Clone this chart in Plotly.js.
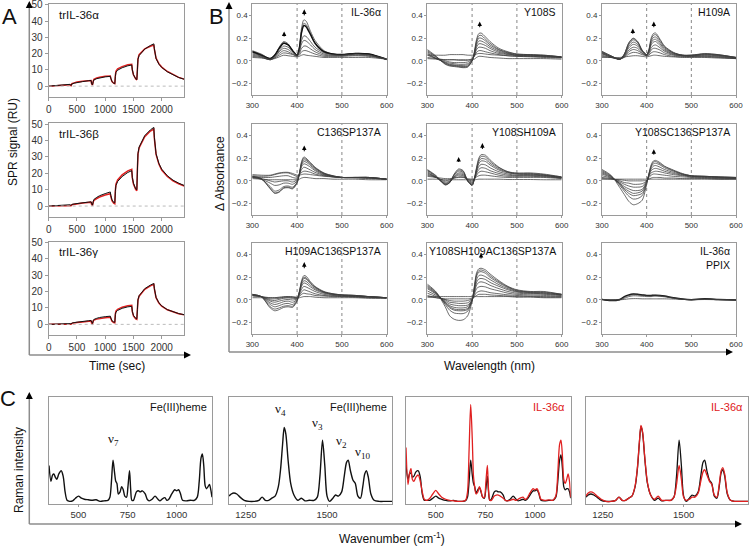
<!DOCTYPE html>
<html><head><meta charset="utf-8">
<script src="https://cdn.plot.ly/plotly-3.0.1.min.js"></script>
<style>html,body{margin:0;padding:0;background:#fff}#chart{width:756px;height:546px}</style>
</head><body><div id="chart"></div>
<script>
// ---------------- Panel A : SPR single-cycle kinetics ----------------
const sprTime = [0,100,200,300,380,395,410,450,500,600,700,750,760,775,790,800,850,900,1000,1090,1100,1120,1150,1170,1180,1190,1220,1300,1400,1470,1480,1500,1540,1560,1570,1580,1600,1650,1700,1800,1860,1870,1900,1950,2000,2100,2200,2300,2400];
const sprAlphaBlack = [0,0.4,0.7,0.9,1.1,0.4,1.3,1.8,2.2,2.8,3.3,3.5,1.5,0.8,3.0,3.8,4.6,5.1,5.7,6.0,4.5,2.8,1.8,1.5,6.0,8.5,9.8,11.3,12.5,13.0,10.0,7.0,4.5,4.0,10.0,16.5,18.8,21.0,22.8,25.0,26.0,23.0,17.0,13.5,11.5,8.8,6.8,5.3,4.2];
const sprAlphaRed   = [0,0.3,0.5,0.7,0.9,0.3,1.5,2.0,2.5,3.0,3.3,3.4,1.4,0.7,3.3,4.2,5.0,5.5,6.0,6.2,4.6,2.8,1.8,1.5,6.5,9.2,10.6,12.0,13.1,13.4,10.0,7.0,4.4,3.9,10.5,16.8,19.3,21.4,22.9,24.5,25.2,22.8,17.2,13.8,11.7,9.0,7.0,5.4,4.3];
const sprBetaBlack  = [0,0.2,0.4,0.6,0.8,0.3,1.0,1.3,1.6,2.0,2.4,2.6,1.0,0.5,3.0,4.0,5.3,6.3,7.6,8.6,6.5,3.8,2.2,2.0,9.0,12.5,15.0,18.0,20.5,21.6,17.5,14.0,10.5,10.0,22.0,32.0,36.0,40.0,43.0,46.5,48.0,42.0,32.0,26.0,22.5,18.5,15.8,14.0,12.5];
const sprBetaRed    = [0,0.1,0.3,0.5,0.6,0.2,0.8,1.1,1.4,1.8,2.2,2.3,0.8,0.3,2.6,3.4,4.6,5.5,6.7,7.5,5.8,3.3,1.7,1.4,9.5,13.3,15.9,19.0,21.5,22.4,17.2,13.5,10.0,9.4,22.8,31.5,35.5,39.4,42.3,45.8,47.0,41.3,31.5,25.6,22.0,18.0,15.4,13.6,12.2];
const sprGammaBlack = [0,0.2,0.3,0.4,0.5,0.2,0.8,1.1,1.4,1.8,2.2,2.4,0.9,0.5,2.5,3.0,3.7,4.2,4.7,5.0,3.8,2.2,1.5,1.3,6.0,7.5,8.5,9.8,10.7,11.0,8.0,5.5,3.7,3.4,9.0,15.0,17.5,20.0,21.8,24.0,25.0,22.0,16.5,13.2,11.3,9.0,7.6,6.6,5.9];
const sprGammaRed   = [0,0.1,0.2,0.3,0.4,0.1,0.6,0.9,1.2,1.5,1.9,2.0,0.7,0.3,2.2,2.6,3.2,3.6,4.1,4.4,3.4,1.9,1.1,0.9,6.4,8.1,9.2,10.5,11.3,11.6,7.8,5.2,3.3,3.0,9.4,14.8,17.2,19.6,21.4,23.5,24.4,21.6,16.3,13.0,11.1,8.9,7.5,6.5,5.8];
const sprTitles = ['trIL-36α','trIL-36β','trIL-36γ'];
const sprXTicks = [0,500,1000,1500,2000];
const sprYTicks = [0,10,20,30,40,50];

// ---------------- Panel B : difference absorbance spectra ----------------
const wl = [300,320,340,350,360,370,380,390,400,405,410,415,420,430,440,460,480,500,530,560,600];
const absTitles = ['IL-36α','Y108S','H109A','C136SP137A','Y108SH109A','Y108SC136SP137A','H109AC136SP137A','Y108SH109AC136SP137A','IL-36α<br>PPIX'];
const absIL36a = [
 [0.09,0.06,0.02,0.05,0.12,0.17,0.15,0.09,0.05,0.12,0.29,0.36,0.35,0.26,0.18,0.09,0.06,0.055,0.065,0.06,0.01],
 [0.085,0.055,0.02,0.05,0.11,0.16,0.14,0.09,0.05,0.11,0.26,0.33,0.32,0.24,0.16,0.08,0.06,0.055,0.065,0.06,0.015],
 [0.08,0.05,0.02,0.05,0.11,0.155,0.14,0.09,0.05,0.11,0.25,0.31,0.30,0.23,0.155,0.08,0.06,0.055,0.065,0.06,0.015],
 [0.07,0.045,0.015,0.04,0.09,0.13,0.12,0.08,0.05,0.09,0.18,0.22,0.215,0.17,0.12,0.07,0.055,0.05,0.06,0.055,0.015],
 [0.06,0.04,0.01,0.035,0.08,0.11,0.10,0.07,0.045,0.08,0.15,0.18,0.175,0.14,0.10,0.06,0.05,0.05,0.06,0.05,0.015],
 [0.05,0.035,0.01,0.03,0.065,0.09,0.08,0.06,0.045,0.065,0.11,0.13,0.13,0.105,0.08,0.05,0.045,0.045,0.05,0.045,0.015],
 [0.04,0.03,0.01,0.025,0.05,0.07,0.065,0.055,0.04,0.05,0.08,0.09,0.09,0.075,0.06,0.04,0.04,0.04,0.045,0.04,0.015],
 [0.03,0.025,0.015,0.02,0.035,0.05,0.045,0.04,0.035,0.04,0.05,0.055,0.05,0.045,0.04,0.03,0.03,0.03,0.03,0.03,0.015]];
const absY108S = [
 [0.10,0.04,-0.03,-0.045,-0.05,-0.055,-0.06,-0.055,0.0,0.08,0.19,0.24,0.245,0.21,0.17,0.11,0.08,0.06,0.055,0.05,0.035],
 [0.09,0.035,-0.025,-0.04,-0.045,-0.05,-0.055,-0.05,0.0,0.07,0.175,0.22,0.225,0.19,0.155,0.10,0.075,0.06,0.055,0.05,0.035],
 [0.08,0.03,-0.02,-0.035,-0.04,-0.045,-0.05,-0.045,0.0,0.065,0.16,0.20,0.20,0.175,0.14,0.095,0.07,0.055,0.05,0.045,0.035],
 [0.07,0.02,-0.015,-0.03,-0.035,-0.04,-0.04,-0.035,0.005,0.06,0.14,0.175,0.175,0.155,0.125,0.085,0.065,0.05,0.05,0.045,0.035],
 [0.06,0.02,-0.01,-0.02,-0.025,-0.03,-0.03,-0.025,0.01,0.05,0.12,0.15,0.15,0.135,0.11,0.075,0.06,0.05,0.045,0.04,0.03],
 [0.05,0.02,0.0,-0.01,-0.015,-0.015,-0.015,-0.01,0.015,0.045,0.10,0.12,0.12,0.11,0.09,0.065,0.055,0.045,0.04,0.04,0.03],
 [0.03,0.02,0.01,0.01,0.01,0.005,0.005,0.005,0.02,0.04,0.075,0.09,0.09,0.08,0.07,0.055,0.045,0.04,0.04,0.035,0.03],
 [0.05,0.05,0.05,0.055,0.055,0.055,0.055,0.05,0.05,0.05,0.06,0.065,0.065,0.06,0.055,0.05,0.045,0.04,0.035,0.03,0.025],
 [0.02,0.015,0.01,0.01,0.01,0.01,0.01,0.01,0.01,0.015,0.03,0.04,0.04,0.035,0.03,0.025,0.02,0.02,0.02,0.02,0.015]];
const absH109A = [
 [0.085,0.045,0.015,0.06,0.16,0.20,0.17,0.095,0.055,0.10,0.20,0.24,0.245,0.19,0.13,0.075,0.05,0.05,0.065,0.055,0.03],
 [0.08,0.045,0.015,0.06,0.155,0.195,0.165,0.09,0.055,0.095,0.185,0.225,0.23,0.18,0.125,0.07,0.05,0.05,0.06,0.055,0.03],
 [0.075,0.04,0.015,0.055,0.145,0.185,0.16,0.09,0.055,0.09,0.17,0.205,0.21,0.165,0.115,0.07,0.05,0.05,0.06,0.05,0.03],
 [0.07,0.04,0.015,0.05,0.13,0.165,0.145,0.085,0.055,0.085,0.155,0.185,0.19,0.15,0.105,0.065,0.05,0.045,0.055,0.05,0.03],
 [0.065,0.035,0.015,0.045,0.115,0.145,0.13,0.08,0.05,0.08,0.14,0.165,0.17,0.135,0.095,0.06,0.045,0.045,0.05,0.045,0.025],
 [0.06,0.035,0.015,0.04,0.095,0.12,0.11,0.07,0.05,0.07,0.115,0.135,0.14,0.115,0.085,0.055,0.045,0.04,0.045,0.04,0.025],
 [0.05,0.03,0.015,0.035,0.08,0.10,0.09,0.065,0.045,0.06,0.095,0.11,0.11,0.095,0.07,0.05,0.04,0.04,0.04,0.035,0.02],
 [0.04,0.03,0.02,0.03,0.06,0.075,0.07,0.055,0.045,0.05,0.07,0.08,0.08,0.07,0.055,0.04,0.035,0.035,0.035,0.03,0.02],
 [0.03,0.03,0.03,0.035,0.04,0.045,0.045,0.04,0.035,0.04,0.045,0.05,0.05,0.045,0.04,0.035,0.03,0.03,0.03,0.025,0.02]];
const absC136SP137A = [
 [0.04,0.02,-0.07,-0.11,-0.10,-0.065,-0.06,-0.07,-0.02,0.06,0.17,0.21,0.20,0.16,0.12,0.07,0.045,0.03,0.03,0.03,0.015],
 [0.04,0.02,-0.065,-0.105,-0.095,-0.06,-0.055,-0.065,-0.015,0.06,0.16,0.20,0.19,0.155,0.115,0.065,0.045,0.03,0.03,0.03,0.015],
 [0.035,0.015,-0.05,-0.09,-0.08,-0.05,-0.045,-0.055,-0.01,0.06,0.15,0.185,0.18,0.145,0.11,0.065,0.04,0.03,0.03,0.03,0.015],
 [0.03,0.015,-0.02,-0.04,-0.035,-0.02,-0.02,-0.03,0.0,0.06,0.14,0.17,0.165,0.135,0.10,0.06,0.04,0.03,0.03,0.03,0.015],
 [0.03,0.02,0.0,-0.01,-0.005,0.0,0.0,-0.01,0.01,0.06,0.125,0.15,0.145,0.12,0.09,0.055,0.04,0.03,0.03,0.03,0.015],
 [0.035,0.03,0.03,0.035,0.04,0.045,0.045,0.03,0.025,0.055,0.10,0.12,0.115,0.095,0.075,0.05,0.035,0.03,0.03,0.025,0.015],
 [0.045,0.04,0.045,0.055,0.065,0.07,0.07,0.055,0.04,0.05,0.075,0.085,0.085,0.075,0.06,0.045,0.035,0.03,0.03,0.025,0.015],
 [0.055,0.05,0.05,0.06,0.07,0.075,0.075,0.065,0.05,0.05,0.055,0.06,0.06,0.055,0.05,0.04,0.035,0.03,0.025,0.02,0.015],
 [0.02,0.015,0.01,0.01,0.01,0.01,0.01,0.01,0.01,0.015,0.025,0.03,0.03,0.025,0.02,0.02,0.015,0.015,0.015,0.01,0.01]];
const absY108SH109A = [
 [0.10,0.045,-0.035,-0.015,0.06,0.105,0.09,0.0,-0.04,0.02,0.12,0.20,0.23,0.225,0.185,0.12,0.08,0.07,0.07,0.06,0.035],
 [0.095,0.04,-0.035,-0.015,0.055,0.095,0.085,0.0,-0.04,0.015,0.11,0.185,0.215,0.21,0.17,0.115,0.08,0.065,0.065,0.055,0.035],
 [0.09,0.035,-0.03,-0.015,0.05,0.085,0.075,0.0,-0.035,0.015,0.10,0.17,0.195,0.19,0.155,0.105,0.075,0.06,0.06,0.05,0.03],
 [0.08,0.03,-0.025,-0.01,0.04,0.07,0.065,0.0,-0.03,0.015,0.09,0.15,0.175,0.17,0.14,0.095,0.07,0.06,0.055,0.05,0.03],
 [0.07,0.03,-0.02,-0.005,0.035,0.06,0.055,0.005,-0.02,0.015,0.08,0.125,0.145,0.14,0.115,0.08,0.06,0.05,0.05,0.045,0.03],
 [0.06,0.03,-0.01,0.0,0.03,0.05,0.045,0.01,-0.01,0.015,0.065,0.10,0.115,0.11,0.09,0.065,0.05,0.045,0.045,0.04,0.025],
 [0.05,0.03,0.0,0.01,0.025,0.035,0.035,0.015,0.0,0.015,0.05,0.075,0.085,0.08,0.07,0.05,0.04,0.04,0.04,0.035,0.025],
 [0.04,0.03,0.02,0.02,0.025,0.03,0.03,0.02,0.015,0.02,0.035,0.045,0.05,0.05,0.045,0.035,0.03,0.03,0.03,0.03,0.02],
 [0.015,0.015,0.01,0.01,0.01,0.01,0.01,0.01,0.01,0.01,0.012,0.015,0.015,0.015,0.015,0.015,0.012,0.012,0.012,0.01,0.01]];
const absY108SC136SP137A = [
 [0.10,0.05,-0.06,-0.12,-0.18,-0.21,-0.20,-0.17,-0.03,0.06,0.14,0.175,0.18,0.16,0.13,0.095,0.065,0.045,0.04,0.035,0.03],
 [0.09,0.045,-0.04,-0.09,-0.135,-0.16,-0.155,-0.13,-0.02,0.06,0.13,0.165,0.17,0.15,0.125,0.09,0.06,0.045,0.04,0.035,0.03],
 [0.08,0.04,-0.03,-0.075,-0.11,-0.13,-0.125,-0.11,-0.015,0.055,0.12,0.15,0.155,0.14,0.115,0.085,0.06,0.045,0.04,0.035,0.03],
 [0.07,0.035,-0.025,-0.065,-0.09,-0.11,-0.105,-0.09,-0.01,0.05,0.105,0.13,0.135,0.12,0.10,0.075,0.055,0.04,0.035,0.03,0.025],
 [0.06,0.03,-0.02,-0.05,-0.07,-0.085,-0.085,-0.075,-0.005,0.045,0.09,0.105,0.11,0.10,0.085,0.065,0.05,0.04,0.035,0.03,0.025],
 [0.045,0.025,-0.01,-0.03,-0.045,-0.055,-0.055,-0.05,0.0,0.04,0.07,0.08,0.085,0.08,0.07,0.055,0.045,0.035,0.03,0.025,0.02],
 [0.03,0.02,0.0,-0.015,-0.02,-0.03,-0.03,-0.025,0.0,0.03,0.05,0.06,0.06,0.055,0.05,0.04,0.035,0.03,0.025,0.02,0.02],
 [0.02,0.015,0.01,0.005,0.0,0.0,0.0,0.0,0.005,0.015,0.025,0.03,0.03,0.03,0.025,0.025,0.02,0.02,0.02,0.015,0.015],
 [0.015,0.015,0.015,0.015,0.015,0.015,0.015,0.015,0.015,0.015,0.015,0.015,0.015,0.015,0.015,0.015,0.015,0.015,0.015,0.015,0.015]];
const absH109AC136SP137A = [
 [0.05,0.03,-0.07,-0.095,-0.085,-0.065,-0.06,-0.065,-0.01,0.07,0.17,0.215,0.21,0.16,0.12,0.075,0.055,0.045,0.04,0.03,0.02],
 [0.05,0.03,-0.06,-0.08,-0.07,-0.055,-0.05,-0.055,-0.005,0.07,0.16,0.20,0.195,0.15,0.115,0.07,0.055,0.045,0.04,0.03,0.02],
 [0.05,0.03,-0.04,-0.06,-0.05,-0.035,-0.03,-0.04,0.0,0.07,0.15,0.19,0.185,0.145,0.11,0.07,0.05,0.045,0.04,0.03,0.02],
 [0.045,0.03,-0.025,-0.04,-0.03,-0.015,-0.01,-0.02,0.005,0.065,0.135,0.17,0.165,0.13,0.10,0.065,0.05,0.04,0.035,0.03,0.02],
 [0.045,0.03,-0.01,-0.02,-0.01,0.0,0.005,0.0,0.01,0.06,0.12,0.15,0.145,0.115,0.09,0.06,0.045,0.04,0.035,0.03,0.02],
 [0.04,0.03,0.0,-0.005,0.005,0.015,0.02,0.015,0.015,0.05,0.095,0.12,0.115,0.095,0.075,0.05,0.04,0.035,0.03,0.025,0.02],
 [0.04,0.03,0.01,0.01,0.015,0.025,0.03,0.025,0.02,0.04,0.07,0.09,0.085,0.07,0.055,0.04,0.035,0.03,0.03,0.025,0.02],
 [0.035,0.03,0.02,0.02,0.025,0.03,0.03,0.03,0.025,0.03,0.05,0.06,0.055,0.05,0.04,0.035,0.03,0.03,0.025,0.02,0.015],
 [0.02,0.02,0.02,0.02,0.02,0.02,0.02,0.02,0.02,0.02,0.025,0.03,0.03,0.03,0.025,0.02,0.02,0.02,0.02,0.015,0.015]];
const absY108SH109AC136SP137A = [
 [0.14,0.07,-0.06,-0.14,-0.17,-0.18,-0.175,-0.14,-0.01,0.12,0.24,0.275,0.28,0.265,0.23,0.17,0.12,0.09,0.075,0.075,0.05],
 [0.13,0.065,-0.04,-0.09,-0.115,-0.12,-0.12,-0.10,-0.005,0.11,0.225,0.26,0.265,0.25,0.215,0.16,0.115,0.085,0.07,0.07,0.05],
 [0.12,0.06,-0.03,-0.07,-0.09,-0.095,-0.095,-0.085,-0.005,0.10,0.21,0.245,0.25,0.235,0.20,0.15,0.11,0.08,0.07,0.065,0.05],
 [0.11,0.055,-0.025,-0.06,-0.08,-0.085,-0.085,-0.075,0.0,0.09,0.18,0.215,0.22,0.205,0.18,0.135,0.10,0.075,0.065,0.06,0.045],
 [0.10,0.05,-0.02,-0.05,-0.065,-0.07,-0.07,-0.06,0.0,0.08,0.155,0.185,0.19,0.18,0.155,0.12,0.09,0.07,0.06,0.055,0.045],
 [0.08,0.04,-0.01,-0.035,-0.045,-0.05,-0.05,-0.045,0.0,0.065,0.13,0.155,0.16,0.15,0.13,0.10,0.075,0.06,0.055,0.05,0.04],
 [0.06,0.03,0.0,-0.02,-0.025,-0.03,-0.03,-0.025,0.005,0.05,0.10,0.115,0.12,0.115,0.10,0.08,0.06,0.05,0.045,0.04,0.035],
 [0.04,0.02,0.005,-0.005,-0.01,-0.01,-0.01,-0.005,0.01,0.035,0.065,0.075,0.08,0.075,0.065,0.055,0.045,0.04,0.035,0.03,0.03],
 [0.025,0.02,0.01,0.01,0.01,0.01,0.01,0.01,0.015,0.025,0.04,0.05,0.05,0.05,0.045,0.04,0.035,0.03,0.03,0.025,0.025],
 [0.03,0.03,0.03,0.03,0.03,0.03,0.03,0.03,0.03,0.03,0.03,0.03,0.03,0.03,0.03,0.03,0.03,0.025,0.025,0.02,0.02]];
const absPPIX = [
 [0.005,-0.005,0.005,0.03,0.045,0.052,0.05,0.045,0.04,0.04,0.04,0.042,0.042,0.04,0.035,0.02,0.008,0.003,0.01,0.005,0.0],
 [0.005,-0.003,0.003,0.025,0.04,0.047,0.046,0.042,0.038,0.037,0.037,0.039,0.04,0.038,0.032,0.018,0.007,0.003,0.009,0.004,0.0],
 [0.005,0.0,0.002,0.015,0.03,0.037,0.036,0.033,0.03,0.03,0.03,0.032,0.033,0.032,0.028,0.016,0.006,0.002,0.008,0.004,0.0],
 [0.005,0.003,0.002,0.005,0.01,0.012,0.012,0.01,0.01,0.01,0.01,0.01,0.01,0.01,0.01,0.008,0.005,0.002,0.004,0.002,0.0]];
// arrows: [wavelength, base, tip]
const arrowsIL36a = [[371,0.214,0.258],[416,0.40,0.453]];
const arrowsY108S = [[417,0.296,0.347]];
const arrowsH109A = [[369,0.238,0.285],[416,0.296,0.347]];
const arrowsC136SP137A = [[416,0.26,0.311]];
const arrowsY108SH109A = [[370,0.166,0.21],[423,0.28,0.332]];
const arrowsY108SC136SP137A = [[416,0.231,0.278]];
const arrowsH109AC136SP137A = [[416,0.28,0.334]];
const arrowsY108SH109AC136SP137A = [[420,0.365,0.415]];
const arrowsPPIX = [];
const absRefLines = [400,500];
const absXTicks = [300,400,500,600];
const absYTicks = [-0.2,0,0.2,0.4];

// ---------------- Panel C : resonance Raman ----------------
const ramanLowX = [350,360,368,375,382,390,400,412,422,432,442,455,470,485,500,515,530,550,570,590,610,630,650,660,668,676,684,690,696,703,712,720,728,736,745,752,760,766,772,780,795,805,815,825,840,850,860,875,890,905,915,925,940,950,960,975,990,1000,1010,1020,1030,1050,1070,1090,1105,1115,1124,1131,1138,1145,1152,1160,1167,1174,1180];
const ramanHemeLow = [0.35,0.20,0.26,0.27,0.24,0.22,0.27,0.30,0.25,0.10,0.02,0.01,0.015,0.04,0.06,0.04,0.03,0.025,0.02,0.025,0.01,0.015,0.02,0.05,0.20,0.40,0.28,0.20,0.18,0.08,0.10,0.15,0.12,0.06,0.05,0.15,0.30,0.12,0.02,0.02,0.10,0.11,0.10,0.11,0.08,0.03,0.015,0.03,0.06,0.03,0.015,0.03,0.045,0.02,0.03,0.08,0.12,0.11,0.12,0.08,0.02,0.015,0.02,0.02,0.05,0.20,0.42,0.46,0.35,0.16,0.13,0.15,0.17,0.12,0.05];
const ramanRefLow = [0.36,0.22,0.27,0.28,0.24,0.25,0.29,0.30,0.24,0.08,0.02,0.02,0.02,0.04,0.06,0.04,0.03,0.02,0.015,0.02,0.01,0.01,0.015,0.05,0.20,0.40,0.26,0.18,0.15,0.09,0.12,0.14,0.10,0.05,0.04,0.12,0.25,0.10,0.02,0.03,0.10,0.11,0.10,0.10,0.07,0.02,0.015,0.03,0.06,0.03,0.015,0.02,0.03,0.02,0.03,0.07,0.11,0.11,0.12,0.08,0.02,0.015,0.02,0.02,0.05,0.20,0.40,0.45,0.33,0.15,0.12,0.13,0.13,0.10,0.04];
const ramanIL36Low = [0.52,0.17,0.28,0.32,0.22,0.20,0.24,0.26,0.20,0.10,0.03,0.02,0.04,0.08,0.115,0.08,0.05,0.03,0.02,0.015,0.01,0.01,0.02,0.10,0.50,0.93,0.60,0.25,0.15,0.08,0.10,0.15,0.11,0.05,0.05,0.18,0.35,0.12,0.02,0.02,0.06,0.07,0.07,0.06,0.04,0.02,0.015,0.02,0.03,0.02,0.03,0.04,0.05,0.03,0.04,0.09,0.13,0.12,0.13,0.09,0.03,0.02,0.025,0.02,0.06,0.28,0.55,0.59,0.45,0.22,0.18,0.22,0.27,0.20,0.05];
const ramanHighX = [1198,1205,1213,1222,1232,1245,1260,1275,1290,1300,1310,1320,1330,1340,1350,1357,1363,1368,1373,1380,1388,1398,1410,1421,1432,1445,1460,1470,1478,1486,1493,1500,1508,1518,1526,1535,1545,1553,1560,1565,1572,1580,1587,1595,1603,1610,1616,1621,1627,1635,1645,1660,1680,1700];
const ramanHemeHigh = [0.06,0.08,0.09,0.08,0.05,0.02,0.01,0.01,0.02,0.05,0.02,0.02,0.04,0.06,0.15,0.32,0.55,0.71,0.65,0.40,0.18,0.07,0.02,0.04,0.015,0.02,0.02,0.05,0.25,0.59,0.35,0.06,0.01,0.04,0.07,0.06,0.10,0.25,0.38,0.40,0.30,0.21,0.18,0.06,0.04,0.15,0.27,0.30,0.24,0.08,0.02,0.01,0.01,0.01];
const ramanRefHigh = [0.05,0.07,0.08,0.07,0.05,0.02,0.01,0.01,0.02,0.05,0.02,0.02,0.04,0.06,0.15,0.32,0.56,0.72,0.66,0.41,0.18,0.07,0.02,0.04,0.015,0.02,0.02,0.05,0.25,0.59,0.35,0.06,0.01,0.04,0.07,0.06,0.10,0.25,0.38,0.40,0.30,0.21,0.18,0.06,0.04,0.15,0.28,0.31,0.25,0.08,0.02,0.01,0.01,0.01];
const ramanIL36High = [0.06,0.09,0.10,0.09,0.06,0.03,0.01,0.01,0.02,0.05,0.02,0.02,0.04,0.06,0.16,0.33,0.57,0.73,0.67,0.42,0.19,0.07,0.03,0.06,0.02,0.02,0.02,0.05,0.17,0.35,0.22,0.05,0.02,0.03,0.05,0.05,0.09,0.20,0.29,0.31,0.26,0.20,0.17,0.07,0.05,0.17,0.30,0.33,0.27,0.09,0.02,0.01,0.01,0.01];
const modeLabels = ['ν<sub>7</sub>','ν<sub>4</sub>','ν<sub>3</sub>','ν<sub>2</sub>','ν<sub>10</sub>'];
const modeX = [676,1356,1470,1545,1608];
const modeY = [0.50,0.78,0.65,0.48,0.37];
const ramanLowTicks = [500,750,1000];
const ramanHighTicks = [1250,1500];

// ---------------- build ----------------
const FONT = 'Liberation Sans, Arial, sans-serif';
const W = 756, H = 546;
const PX = x => x / W, PY = y => 1 - y / H;
const RED = '#e02020';
const data = [];
const layout = {width: W, height: H, margin: {l:0,r:0,t:0,b:0}, paper_bgcolor:'#fff', plot_bgcolor:'#fff',
  showlegend:false, shapes:[], annotations:[], font:{family:FONT, color:'#222'}};
let n = 0;
function addAxes(rect, xopt, yopt) {
  n++;
  const s = n === 1 ? '' : String(n);
  const base = {showline:true, mirror:true, linecolor:'#9a9a9a', linewidth:1, showgrid:false, zeroline:false,
    ticks:'outside', ticklen:3, tickcolor:'#9a9a9a', fixedrange:true, ticklabeloverflow:'allow'};
  layout['xaxis'+s] = Object.assign({}, base, {domain:[PX(rect[0]), PX(rect[1])], anchor:'y'+s}, xopt);
  layout['yaxis'+s] = Object.assign({}, base, {domain:[PY(rect[3]), PY(rect[2])], anchor:'x'+s}, yopt);
  return {x:'x'+s, y:'y'+s};
}
function line(ax, x, y, color, width, shape) {
  data.push({type:'scatter', mode:'lines', x:x, y:y, xaxis:ax.x, yaxis:ax.y,
    line:{color:color, width:width, shape:shape||'linear', smoothing:0.8}, hoverinfo:'skip'});
}

// Panel A
const sprRects = [[48.7,184.3,4,96.7],[48.7,184.3,123.3,216.7],[48.7,184.3,241.7,335]];
const sprBlack = [sprAlphaBlack, sprBetaBlack, sprGammaBlack];
const sprRed = [sprAlphaRed, sprBetaRed, sprGammaRed];
sprRects.forEach((r, i) => {
  const ax = addAxes(r,
    {range:[0,2400], tickvals:sprXTicks, tickfont:{size:10, color:'#333'}},
    {range:[-6.5,50.5], tickvals:sprYTicks, tickfont:{size:10, color:'#333'}});
  layout.shapes.push({type:'line', xref:ax.x+' domain', yref:ax.y, x0:0, x1:1, y0:0, y1:0,
    line:{color:'#bbbbbb', width:1, dash:'dot'}});
  line(ax, sprTime, sprRed[i], RED, 1.5);
  line(ax, sprTime, sprBlack[i], '#111', 1.0);
  layout.annotations.push({xref:ax.x+' domain', yref:ax.y+' domain', x:0.06, y:0.97, xanchor:'left', yanchor:'top',
    text:sprTitles[i], showarrow:false, font:{size:11.5, color:'#111'}});
});

// Panel B
const absCurves = [absIL36a, absY108S, absH109A, absC136SP137A, absY108SH109A, absY108SC136SP137A, absH109AC136SP137A, absY108SH109AC136SP137A, absPPIX];
const absArrows = [arrowsIL36a, arrowsY108S, arrowsH109A, arrowsC136SP137A, arrowsY108SH109A, arrowsY108SC136SP137A, arrowsH109AC136SP137A, arrowsY108SH109AC136SP137A, arrowsPPIX];
const colsB = [[252.3,386.7],[427.3,561.7],[602,736]];
const rowsB = [[4,95],[124,215],[243.3,334]];
for (let k = 0; k < 9; k++) {
  const c = colsB[k % 3], r = rowsB[Math.floor(k / 3)];
  const ax = addAxes([c[0], c[1], r[0], r[1]],
    {range:[300,600], tickvals:absXTicks, tickfont:{size:8, color:'#333'}, ticklen:2},
    {range:[-0.3,0.5], tickvals:absYTicks, tickformat:'.1f', tickfont:{size:8, color:'#333'}, ticklen:2});
  if (k !== 8) absRefLines.forEach(v => layout.shapes.push({type:'line', xref:ax.x, yref:ax.y+' domain',
    x0:v, x1:v, y0:0, y1:1, line:{color:'#555', width:0.7, dash:'dot'}}));
  absCurves[k].forEach((cv, j) => {
    const thick = (j === 2 && k === 0) || (j === 0 && k === 8);
    line(ax, wl, cv, thick ? '#111' : '#3c3c3c', thick ? 1.5 : 0.75, 'spline');
  });
  absArrows[k].forEach(a => {
    layout.shapes.push({type:'line', xref:ax.x, yref:ax.y, x0:a[0], x1:a[0], y0:a[1], y1:a[2]-0.03,
      line:{color:'#000', width:1}});
    layout.shapes.push({type:'path', xref:ax.x, yref:ax.y, fillcolor:'#000', line:{width:0},
      path:`M ${a[0]-5} ${a[2]-0.04} L ${a[0]+5} ${a[2]-0.04} L ${a[0]} ${a[2]} Z`});
  });
  layout.annotations.push({xref:ax.x+' domain', yref:ax.y+' domain', x:0.97, y:1.0, xanchor:'right', yanchor:'top',
    align:'right', text:absTitles[k], showarrow:false, font:{size:10.5, color:'#111'}});
}

// Panel C
const ramanRects = [[49,212,397,504],[229,392,397,504],[406,570.7,397,504],[586,748.3,397,504]];
const ramanCfg = [
  {range:[350,1180], ticks:ramanLowTicks, title:'Fe(III)heme', tcolor:'#111'},
  {range:[1198,1700], ticks:ramanHighTicks, title:'Fe(III)heme', tcolor:'#111'},
  {range:[350,1180], ticks:ramanLowTicks, title:'IL-36α', tcolor:RED},
  {range:[1198,1700], ticks:ramanHighTicks, title:'IL-36α', tcolor:RED}];
const ramanAx = ramanRects.map((r, i) => addAxes(r,
  {range:ramanCfg[i].range, tickvals:ramanCfg[i].ticks, tickfont:{size:9.5, color:'#333'}, ticklen:2},
  {range:[-0.015,1], showticklabels:false, ticks:''}));
line(ramanAx[0], ramanLowX, ramanHemeLow, '#111', 1.4, 'spline');
line(ramanAx[1], ramanHighX, ramanHemeHigh, '#111', 1.4, 'spline');
line(ramanAx[2], ramanLowX, ramanRefLow, '#111', 1.3, 'spline');
line(ramanAx[2], ramanLowX, ramanIL36Low, RED, 1.3, 'spline');
line(ramanAx[3], ramanHighX, ramanRefHigh, '#111', 1.3, 'spline');
line(ramanAx[3], ramanHighX, ramanIL36High, RED, 1.3, 'spline');
ramanAx.forEach((ax, i) => layout.annotations.push({xref:ax.x+' domain', yref:ax.y+' domain', x:0.98, y:0.98,
  xanchor:'right', yanchor:'top', text:ramanCfg[i].title, showarrow:false, font:{size:11, color:ramanCfg[i].tcolor}}));
modeLabels.forEach((t, i) => {
  const ax = i === 0 ? ramanAx[0] : ramanAx[1];
  layout.annotations.push({xref:ax.x, yref:ax.y, x:modeX[i], y:modeY[i], text:t, showarrow:false,
    xanchor:'center', yanchor:'bottom', font:{family:'Liberation Serif, Times New Roman, serif', size:13, color:'#111'}});
});

// Outer framing axes with arrows
function frame(x0, yTop, yBot, xRight) {
  layout.shapes.push({type:'line', xref:'paper', yref:'paper', x0:PX(x0), x1:PX(x0), y0:PY(yBot), y1:PY(yTop+5),
    line:{color:'#8c8c8c', width:1.5}});
  layout.shapes.push({type:'line', xref:'paper', yref:'paper', x0:PX(x0), x1:PX(xRight-5), y0:PY(yBot), y1:PY(yBot),
    line:{color:'#8c8c8c', width:1.5}});
  layout.shapes.push({type:'path', xref:'paper', yref:'paper', fillcolor:'#000', line:{width:0},
    path:`M ${PX(x0)} ${PY(yTop)} L ${PX(x0-3.5)} ${PY(yTop+7)} L ${PX(x0+3.5)} ${PY(yTop+7)} Z`});
  layout.shapes.push({type:'path', xref:'paper', yref:'paper', fillcolor:'#000', line:{width:0},
    path:`M ${PX(xRight)} ${PY(yBot)} L ${PX(xRight-7)} ${PY(yBot-3.5)} L ${PX(xRight-7)} ${PY(yBot+3.5)} Z`});
}
frame(29.3, 1, 355, 191);
frame(229, 2, 352, 733);
frame(29.3, 392, 524, 742);

function paperText(text, x, y, size, opts) {
  layout.annotations.push(Object.assign({xref:'paper', yref:'paper', x:PX(x), y:PY(y), text:text, showarrow:false,
    xanchor:'center', yanchor:'middle', font:{size:size, color:'#111'}}, opts || {}));
}
paperText('A', 9, 16, 22);
paperText('B', 216, 16, 22);
paperText('C', 8, 398, 22);
paperText('SPR signal (RU)', 13, 142, 12, {textangle:-90});
paperText('Time (sec)', 117, 366, 12);
paperText('Δ Absorbance', 220, 174, 12, {textangle:-90});
paperText('Wavelength (nm)', 489, 366, 12);
paperText('Raman intensity', 19, 470, 12, {textangle:-90});
paperText('Wavenumber (cm<sup>-1</sup>)', 392, 538, 12);

Plotly.newPlot('chart', data, layout, {staticPlot:true, displayModeBar:false});
</script></body></html>
